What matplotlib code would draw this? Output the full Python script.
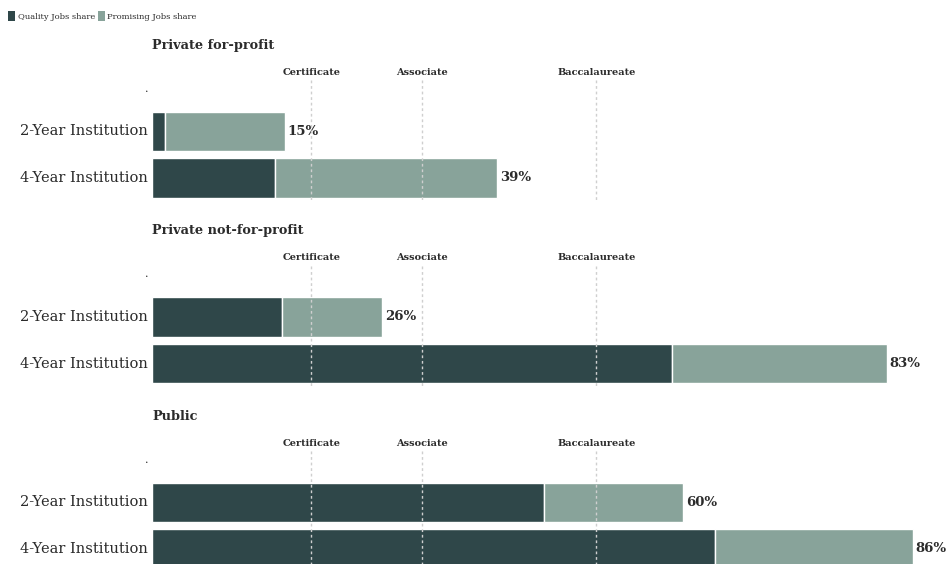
import matplotlib.pyplot as plt
from matplotlib.patches import Patch

plt.rcParams['font.family'] = 'DejaVu Serif'

# sectors, one panel each
sectors = ["Private for-profit", "Private not-for-profit", "Public"]
institutions = ["2-Year Institution", "4-Year Institution"]

# share of programs leading to quality jobs (dark) and total incl. promising jobs
quality_share = [[1.5, 13.9], [14.7, 58.8], [44.3, 63.6]]
total_share = [[15, 39], [26, 83], [60, 86]]

# credential thresholds drawn as dotted reference lines
ref_names = ["Certificate", "Associate", "Baccalaureate"]
ref_values = [18, 30.5, 50.2]

DARK = "#2f4749"
LIGHT = "#88a39a"
TEXT = "#2b2b2b"

W, H = 949, 564
fig = plt.figure(figsize=(W / 100, H / 100), dpi=100)

# pixel geometry of one panel
px_per_pct = 8.85
left_px = 152
pitch = 46.5
panel_step = 185.5
ax_top, ax_bot, bar_c = 30, 205, 131.5

for i, sector in enumerate(sectors):
    top = ax_top + panel_step * i
    bot = ax_bot + panel_step * i
    c0 = bar_c + panel_step * i
    ax = fig.add_axes([left_px / W, 1 - bot / H, (W - left_px) / W, (bot - top) / H])
    ax.set_xlim(0, (W - left_px) / px_per_pct)
    ax.set_ylim((bot - c0) / pitch, (top - c0) / pitch)
    ax.axis("off")

    q = quality_share[i]
    t = total_share[i]
    p = [tt - qq for tt, qq in zip(t, q)]
    ypos = range(len(institutions))
    ax.barh(ypos, q, height=0.84, color=DARK, edgecolor="white", linewidth=1, zorder=2)
    ax.barh(ypos, p, left=q, height=0.84, color=LIGHT, edgecolor="white", linewidth=1, zorder=2)

    for y, (name, tot) in enumerate(zip(institutions, t)):
        ax.text(-0.5, y, name, ha="right", va="center", fontsize=10.5, color=TEXT)
        ax.text(tot + 0.3, y, f"{tot}%", ha="left", va="center",
                fontsize=9.5, fontweight="bold", color=TEXT)

    for name, v in zip(ref_names, ref_values):
        ax.plot([v, v], [-1.1, 1.5], color="#cfcfcf", lw=1, ls=(0, (2, 2)), zorder=3)
        ax.text(v, -1.27, name, ha="center", va="center", fontsize=7,
                fontweight="bold", color=TEXT)

    ax.text(-0.55, -0.92, ".", ha="center", va="center", fontsize=8, color=TEXT)
    ax.text(0, -1.86, sector, ha="left", va="center", fontsize=9.3,
            fontweight="bold", color=TEXT)

handles = [Patch(facecolor=DARK, label="Quality Jobs share"),
           Patch(facecolor=LIGHT, label="Promising Jobs share")]
fig.legend(handles=handles, loc="upper left", bbox_to_anchor=(0.0, 0.995), ncol=2,
           frameon=False, fontsize=6, handlelength=0.8, handleheight=1.5,
           handletextpad=0.3, columnspacing=0.4, borderpad=0.5, labelcolor=TEXT)

fig.savefig("out.png", dpi=100)
